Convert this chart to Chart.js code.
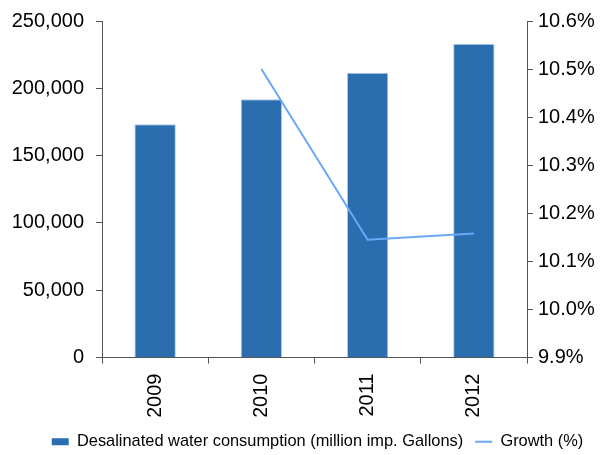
<!DOCTYPE html>
<html>
<head>
<meta charset="utf-8">
<script src="https://cdn.jsdelivr.net/npm/chart.js@4"></script>
<style>
  html, body { margin: 0; padding: 0; background: #fff; }
  #wrap { width: 603px; height: 455px; }
</style>
</head>
<body>
<div id="wrap"><canvas id="chart" width="603" height="455"></canvas></div>
<script>
const years = ['2009', '2010', '2011', '2012'];
const consumption = [173400, 191900, 211500, 233100];
const growth = [null, 10.50, 10.145, 10.158];
const consumptionLabel = 'Desalinated water consumption (million imp. Gallons)';
const growthLabel = 'Growth (%)';

const axisColor = '#555555';
const tickFont = { family: 'Liberation Sans, Arial, sans-serif', size: 20 };

// nudge the legend a bit lower and to the right, like the original
const legendNudge = {
    id: 'legendNudge',
    afterLayout(c) {
        const lg = c.legend;
        if (!lg) return;
        lg.top += 5; lg.bottom += 5;
        lg.left += 16; lg.right += 16;
    }
};

// fixed axis widths, and no extra label padding so the plot area is where we want it
const fixWidth = (w) => (s) => { s.width = w; s.paddingTop = 0; s.paddingBottom = 0; };

const ctx = document.getElementById('chart').getContext('2d');
const chart = new Chart(ctx, {
    data: {
        labels: years,
        datasets: [
            {
                type: 'line',
                label: growthLabel,
                data: growth,
                yAxisID: 'y2',
                borderColor: '#6AA8F7',
                backgroundColor: '#6AA8F7',
                borderWidth: 2,
                pointRadius: 0,
                tension: 0,
                order: 0
            },
            {
                type: 'bar',
                label: consumptionLabel,
                data: consumption,
                yAxisID: 'y',
                backgroundColor: '#2A6EB0',
                borderColor: '#B4CDEA',
                borderWidth: 1,
                barPercentage: 0.39,
                categoryPercentage: 1.0,
                order: 1
            }
        ]
    },
    options: {
        responsive: false,
        animation: false,
        layout: { padding: { top: 21, left: 0, right: 0, bottom: 0 } },
        plugins: {
            tooltip: { enabled: false },
            legend: {
                position: 'bottom',
                reverse: true,
                labels: {
                    color: '#000',
                    font: { family: 'Liberation Sans, Arial, sans-serif', size: 16.4 },
                    usePointStyle: true,
                    pointStyleWidth: 17,
                    boxHeight: 7,
                    padding: 12,
                    generateLabels: (c) => c.data.datasets.map((ds, i) => ({
                        text: ds.label,
                        datasetIndex: i,
                        fillStyle: ds.type === 'bar' ? ds.backgroundColor : 'transparent',
                        strokeStyle: ds.borderColor,
                        lineWidth: ds.type === 'bar' ? 0 : 2,
                        pointStyle: ds.type === 'bar' ? 'rect' : 'line',
                        hidden: false
                    }))
                }
            }
        },
        scales: {
            x: {
                offset: true,
                grid: { offset: true, drawOnChartArea: false, drawTicks: true, tickLength: 6, color: axisColor },
                border: { color: axisColor, width: 1 },
                ticks: { color: '#000', font: tickFont, minRotation: 90, maxRotation: 90, padding: 10 },
                afterFit: (s) => { s.height = 59; }
            },
            y: {
                position: 'left',
                min: 0,
                max: 250000,
                grid: { drawOnChartArea: false, drawTicks: true, tickLength: 6, color: axisColor },
                border: { color: axisColor, width: 1 },
                ticks: {
                    stepSize: 50000,
                    color: '#000',
                    font: tickFont,
                    padding: 12,
                    callback: (v) => v.toLocaleString('en-US')
                },
                afterFit: fixWidth(102)
            },
            y2: {
                position: 'right',
                min: 9.9,
                max: 10.6,
                grid: { drawOnChartArea: false, drawTicks: true, tickLength: 6, color: axisColor },
                border: { color: axisColor, width: 1 },
                ticks: {
                    stepSize: 0.1,
                    color: '#000',
                    font: tickFont,
                    padding: 5,
                    callback: (v) => Number(v).toFixed(1) + '%'
                },
                afterFit: fixWidth(76)
            }
        }
    },
    plugins: [legendNudge]
});
</script>
</body>
</html>
